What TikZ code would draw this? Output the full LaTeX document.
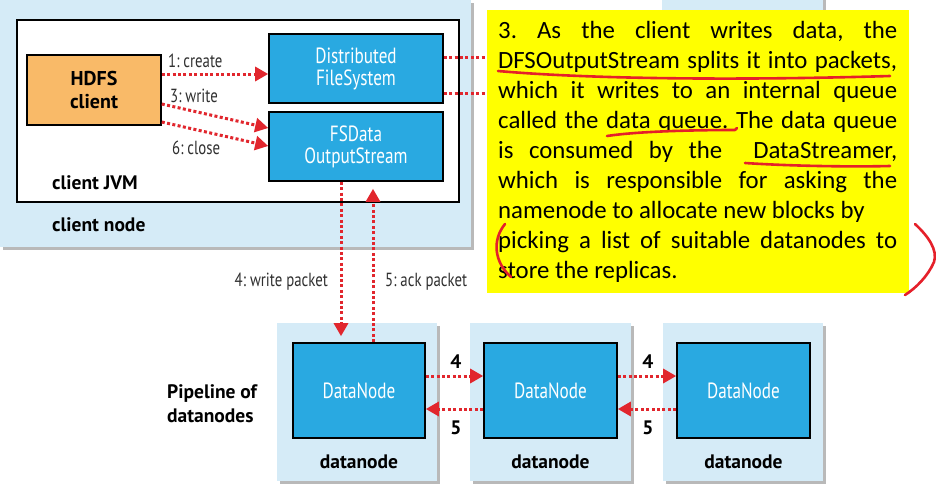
\documentclass[tikz,border=0pt]{standalone}
\usepackage{fontspec}
\newfontfamily\dfont{PT Sans}[FakeStretch=0.78]
\newfontfamily\bfnt{PT Sans}
\newfontfamily\cfont{Carlito}
\usetikzlibrary{arrows.meta,shadows,calc}
\definecolor{lightblue}{HTML}{D5EBF7}
\definecolor{boxblue}{HTML}{29A9E1}
\definecolor{orangebox}{HTML}{F9BA68}
\definecolor{arrowred}{HTML}{E1262D}
\definecolor{penred}{HTML}{E5202A}
\definecolor{hiyellow}{HTML}{FFFF00}
\definecolor{labelgray}{HTML}{303030}
\begin{document}
\frenchspacing
\begin{tikzpicture}[x=1pt,y=-1pt,
  lbox/.style={rectangle, fill=lightblue, draw=none, inner sep=0pt,
    drop shadow={shadow xshift=3pt, shadow yshift=-3pt, fill=black!50, opacity=0.55}},
  bluebox/.style={rectangle, fill=boxblue, draw=black, line width=1.6pt, inner sep=0pt,
    text=white, align=center, font=\dfont\fontsize{22}{22}\selectfont},
  redarrow/.style={draw=arrowred, line width=3pt, dash pattern=on 3pt off 2.4pt,
    -{Triangle[length=13pt,width=14pt]}},
  redline/.style={draw=arrowred, line width=3pt, dash pattern=on 3pt off 2.4pt},
  lbl/.style={inner sep=0pt, text=labelgray, font=\dfont\fontsize{19}{21}\selectfont},
  blbl/.style={inner sep=0pt, text=black, align=left, font=\bfnt\bfseries\fontsize{19.5}{23.5}\selectfont},
  ytext/.style={anchor=base west, inner sep=0pt, font=\cfont\fontsize{24.8}{30}\selectfont},
  pen/.style={draw=penred, line width=2.6pt, line cap=round, line join=round}
]
\useasboundingbox (0,0) rectangle (936,490);
\fill[white] (0,0) rectangle (936,490);

% client node
\node[lbox, minimum width=471pt, minimum height=247pt] (cnode) at (235.5,123.5) {};
\node[rectangle, fill=white, draw=black, line width=1.6pt, minimum width=442pt, minimum height=182pt, inner sep=0pt] (jvm) at (238,111) {};
\node[rectangle, fill=orangebox, draw=black, line width=1.6pt, minimum width=134pt, minimum height=70pt, inner sep=0pt,
  align=center, font=\bfnt\bfseries\fontsize{20}{23}\selectfont] (hdfs) at (94,90) {HDFS\\client};
\node[bluebox, minimum width=174pt, minimum height=69pt] (dfs) at (356,68.5) {Distributed\\FileSystem};
\node[bluebox, minimum width=174pt, minimum height=69pt] (fsd) at (356,146.5) {FSData\\OutputStream};
\node[blbl, anchor=west] (jvmlbl) at (52,183) {client JVM};
\node[blbl, anchor=west] (cnlbl) at (52,225) {client node};

% client arrows
\draw[redarrow] ([yshift=16pt]hdfs.east) -- ([yshift=16pt]hdfs.east -| dfs.west);
\draw[redarrow] ([yshift=-14pt]hdfs.east) -- ([yshift=18.5pt]fsd.west);
\draw[redarrow] ([yshift=-32pt]hdfs.east) -- ([yshift=0.5pt]fsd.west);
\node[lbl, anchor=west] (l1) at (168,61) {1: create};
\node[lbl, anchor=west] (l3) at (170,96) {3: write};
\node[lbl, anchor=west] (l6) at (172,148) {6: close};

% partial box behind the note
\node[lbox, minimum width=161pt, minimum height=40pt] (nn) at (742.5,-10) {};

% note
\node[rectangle, fill=hiyellow, draw=none, minimum width=422pt, minimum height=283pt, inner sep=0pt] (note) at (698,151.5) {};
\draw[redline] ([yshift=11.5pt]dfs.east) -- ([yshift=11.5pt]dfs.east -| note.west);
\draw[redline] ([yshift=-24.5pt]dfs.east) -- ([yshift=-24.5pt]dfs.east -| note.west);

\node[ytext] (t1) at (498,38) {\makebox[399pt][s]{3. As the client writes data, the}};
\node[ytext] (t2) at (498,68) {\makebox[399pt][s]{DFSOutputStream splits it into packets,}};
\node[ytext] (t3) at (498,98) {\makebox[399pt][s]{which it writes to an internal queue}};
\node[ytext] (t4) at (498,128) {\makebox[399pt][s]{called the data queue. The data queue}};
\node[ytext] (t5) at (498,158) {\makebox[399pt][s]{is consumed by the \ DataStreamer,}};
\node[ytext] (t6) at (498,188) {\makebox[399pt][s]{which is responsible for asking the}};
\node[ytext] (t7) at (498,218) {namenode to allocate new blocks by};
\node[ytext] (t8) at (498,248) {\makebox[399pt][s]{picking a list of suitable datanodes to}};
\node[ytext] (t9) at (498,278) {store the replicas.};

% pen marks
\draw[pen] (498,71) .. controls (600,80) and (760,80) .. (890,76);
\draw[pen] (607,136) .. controls (640,131) and (700,130) .. (735,130) -- (737,128);
\draw[pen] (745,163) .. controls (790,166) and (850,167) .. (890,166);
\draw[pen] (505,224) .. controls (492,240) and (494,262) .. (511,277);
\draw[pen] (915,224) .. controls (928,236) and (938,250) .. (934,262) .. controls (928,276) and (916,288) .. (905,295);

% datanodes
\node[lbox, minimum width=160pt, minimum height=158pt] (c1) at (357,402) {};
\node[lbox, minimum width=161pt, minimum height=158pt] (c2) at (550.5,402) {};
\node[lbox, minimum width=160pt, minimum height=158pt] (c3) at (743,402) {};
\node[bluebox, minimum width=132pt, minimum height=95pt] (dn1) at (359,390.5) {DataNode};
\node[bluebox, minimum width=133pt, minimum height=95pt] (dn2) at (550.5,390.5) {DataNode};
\node[bluebox, minimum width=133pt, minimum height=95pt] (dn3) at (743.5,390.5) {DataNode};
\node[blbl] (d1) at (359,462) {datanode};
\node[blbl] (d2) at (550.5,462) {datanode};
\node[blbl] (d3) at (743.5,462) {datanode};
\node[blbl, anchor=west] (pipe) at (167,403.5) {Pipeline of\\datanodes};

% vertical arrows
\draw[redarrow, shorten >=6pt] ([xshift=-15pt]fsd.south) -- ([xshift=-15pt]fsd.south |- dn1.north);
\draw[redarrow, shorten >=7pt] ([xshift=17pt]fsd.south |- dn1.north) -- ([xshift=17pt]fsd.south);
\node[lbl, anchor=east] (wp) at (328,282) {4: write packet};
\node[lbl, anchor=west] (ap) at (385,282) {5: ack packet};

% pipeline arrows
\draw[redarrow] ([yshift=14.5pt]dn1.east) -- ([yshift=14.5pt]dn1.east -| dn2.west);
\draw[redarrow] ([yshift=-18.5pt]dn2.west) -- ([yshift=-18.5pt]dn2.west -| dn1.east);
\draw[redarrow] ([yshift=14.5pt]dn2.east) -- ([yshift=14.5pt]dn2.east -| dn3.west);
\draw[redarrow] ([yshift=-18.5pt]dn3.west) -- ([yshift=-18.5pt]dn3.west -| dn2.east);
\node[blbl] (n4a) at (456,362) {4};
\node[blbl] (n5a) at (456,428) {5};
\node[blbl] (n4b) at (648,362) {4};
\node[blbl] (n5b) at (648,428) {5};
\end{tikzpicture}
\end{document}
